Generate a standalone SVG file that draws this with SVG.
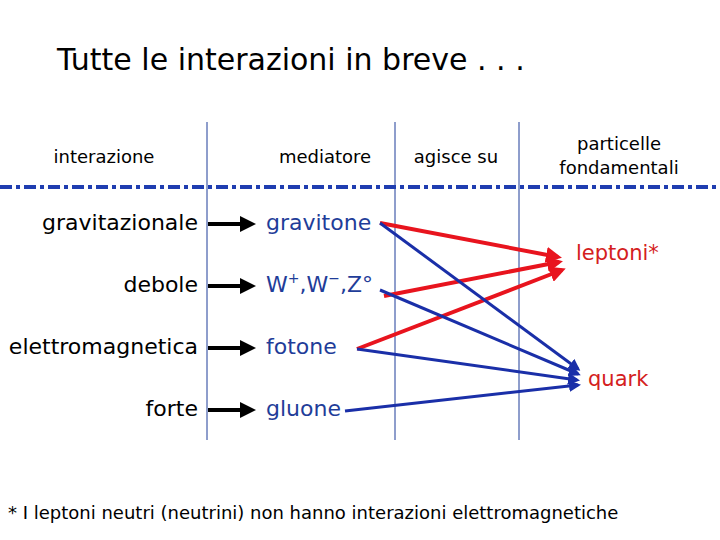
<svg xmlns="http://www.w3.org/2000/svg" width="720" height="540" viewBox="0 0 720 540">
<defs>
<style>
text{font-family:"DejaVu Sans","Liberation Sans",sans-serif}
.h{font-size:18px;fill:#000}
.l{font-size:22px;fill:#000;text-anchor:end}
.m{font-size:22px;fill:#1f3d99}
.p{font-size:21px;fill:#d42020}
.vl{stroke:#1f3d99;stroke-width:1}
.k{stroke:#000;stroke-width:4;marker-end:url(#ak)}
.r{stroke:#e8141e;stroke-width:4;marker-end:url(#ar)}
.b{stroke:#1a2fa8;stroke-width:3;marker-end:url(#ab)}
</style>
<marker id="ak" markerWidth="4" markerHeight="4" refX="3" refY="2" orient="auto"><path d="M0,0L4,2L0,4z" fill="#000"/></marker>
<marker id="ar" markerWidth="4" markerHeight="4" refX="3" refY="2" orient="auto"><path d="M0,0L4,2L0,4z" fill="#e8141e"/></marker>
<marker id="ab" markerWidth="4" markerHeight="4" refX="3" refY="2" orient="auto"><path d="M0,0L4,2L0,4z" fill="#1a2fa8"/></marker>
</defs>
<rect width="720" height="540" fill="#fff"/>
<text x="57" y="70" font-size="30">Tutte le interazioni in breve . . .</text>
<g id="grid">
<line class="vl" x1="207" y1="122" x2="207" y2="440"/>
<line class="vl" x1="395" y1="122" x2="395" y2="440"/>
<line class="vl" x1="519" y1="122" x2="519" y2="440"/>
<line x1="0" y1="187" x2="720" y2="187" stroke="#1f3db0" stroke-width="4" stroke-dasharray="12,4,4,4"/>
</g>
<g id="headers">
<text class="h" x="104" y="163" text-anchor="middle">interazione</text>
<text class="h" x="325" y="163" text-anchor="middle">mediatore</text>
<text class="h" x="456" y="163" text-anchor="middle">agisce su</text>
<text class="h" x="619" y="150" text-anchor="middle">particelle</text>
<text class="h" x="619" y="174" text-anchor="middle">fondamentali</text>
</g>
<g id="interazioni">
<text class="l" x="198" y="230">gravitazionale</text>
<text class="l" x="198" y="292">debole</text>
<text class="l" x="198" y="354">elettromagnetica</text>
<text class="l" x="198" y="416">forte</text>
</g>
<g id="mediatori">
<text class="m" x="266" y="230">gravitone</text>
<text class="m" x="266" y="292">W<tspan dy="-9" font-size="14">+</tspan><tspan dy="9">,W</tspan><tspan dy="-9" font-size="14">−</tspan><tspan dy="9">,Z°</tspan></text>
<text class="m" x="266" y="354">fotone</text>
<text class="m" x="266" y="416">gluone</text>
</g>
<g id="particelle">
<text class="p" x="576" y="260">leptoni*</text>
<text class="p" x="588" y="386">quark</text>
</g>
<g id="connectors">
<line class="k" x1="208" y1="224" x2="252" y2="224"/>
<line class="k" x1="208" y1="286" x2="252" y2="286"/>
<line class="k" x1="208" y1="348" x2="252" y2="348"/>
<line class="k" x1="208" y1="410" x2="252" y2="410"/>
<line class="r" x1="380" y1="223" x2="558" y2="257"/>
<line class="r" x1="384" y1="296" x2="559" y2="262"/>
<line class="r" x1="357" y1="349" x2="562" y2="270"/>
<line class="b" x1="380" y1="223" x2="578" y2="369"/>
<line class="b" x1="380" y1="290" x2="578" y2="374"/>
<line class="b" x1="357" y1="349" x2="577" y2="380"/>
<line class="b" x1="345" y1="411" x2="578" y2="385"/>
</g>
<text x="8" y="519" font-size="18">* I leptoni neutri (neutrini) non hanno interazioni elettromagnetiche</text>
</svg>
